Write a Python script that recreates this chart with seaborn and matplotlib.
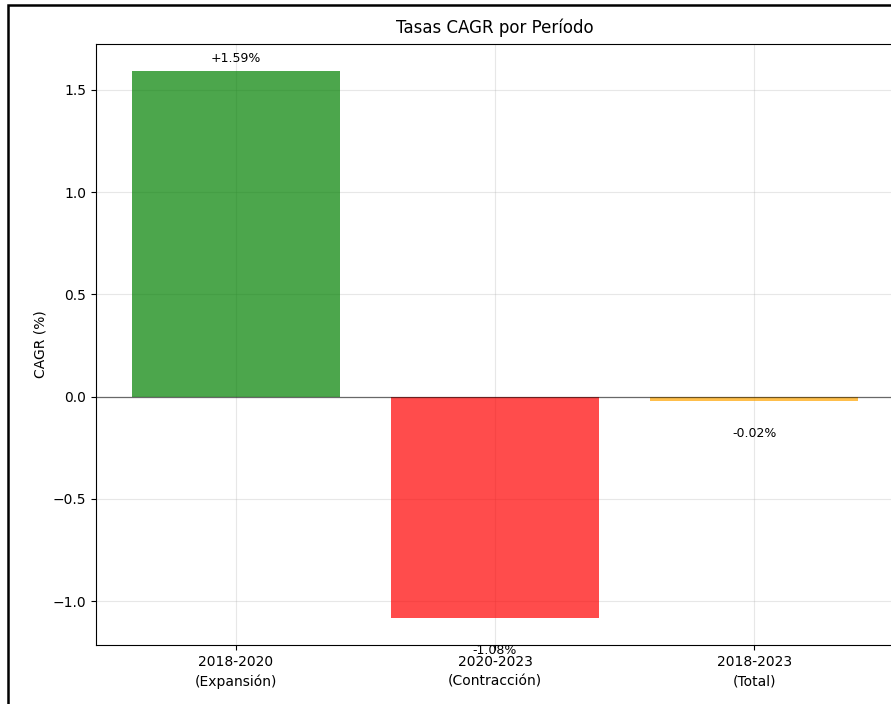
import matplotlib
matplotlib.use('Agg')
import matplotlib.pyplot as plt
import seaborn as sns
from matplotlib.patches import Rectangle

# === Data ===
periodos = ['2018-2020\n(Expansión)', '2020-2023\n(Contracción)', '2018-2023\n(Total)']
cagr = [1.59, -1.08, -0.02]
colores = ['green', 'red', 'orange']

# === Figure ===
fig = plt.figure(figsize=(8.91, 7.04), dpi=100)
ax = fig.add_axes([96 / 891, 1 - 645 / 704, 798 / 891, (645 - 44) / 704])

sns.barplot(x=periodos, y=cagr, hue=periodos, palette=colores, legend=False,
            alpha=0.7, width=0.8, saturation=1, ax=ax)

ax.axhline(0, color='black', linewidth=0.9, alpha=0.55)
ax.set_title('Tasas CAGR por Período', fontsize=12, pad=8)
ax.set_ylabel('CAGR (%)')
ax.set_xlabel('')
ax.grid(True, alpha=0.3)
ax.set_axisbelow(True)
ax.set_xlim(-0.54, 2.54)
ax.set_ylim(-1.2135, 1.7235)
for lbl in ax.get_xticklabels():
    lbl.set_linespacing(1.5)

for i, v in enumerate(cagr):
    if v > 0:
        ax.text(i, v + 0.03, f'{v:+.2f}%', ha='center', va='bottom', fontsize=9)
    else:
        ax.text(i, v - 0.13, f'{v:.2f}%', ha='center', va='top', fontsize=9)

# outer frame of the original panel
fig.patches.append(Rectangle((8 / 891, -0.1), 1.2, 1.1 - 5 / 704, transform=fig.transFigure,
                             fill=False, edgecolor='black', linewidth=1.8))

fig.savefig('out.png', dpi=100)
